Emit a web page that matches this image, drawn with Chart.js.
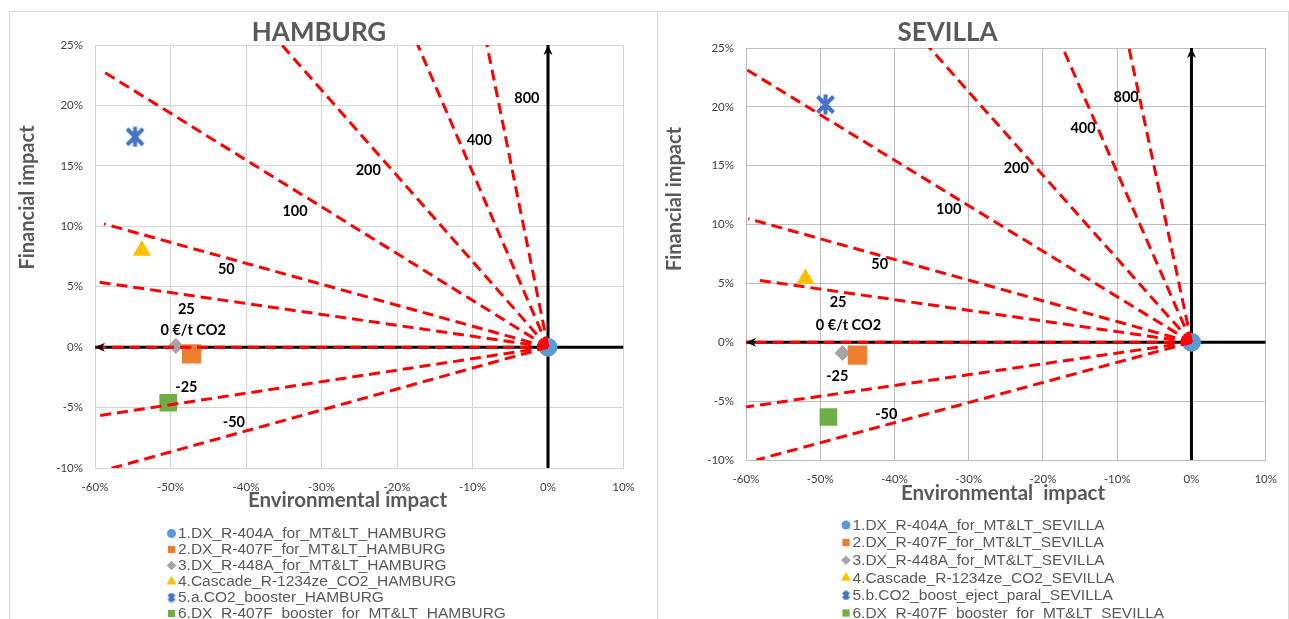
<!DOCTYPE html>
<html lang="en">
<head>
  <meta charset="UTF-8">
  <title>Hamburg / Sevilla - financial vs environmental impact</title>
  <script src="https://cdn.jsdelivr.net/npm/chart.js"></script>
  <style>
    body { margin: 0; width: 1289px; height: 619px; overflow: hidden; background: #fff; position: relative; }
    .panel { position: absolute; top: 11px; height: 660px; border: 1px solid #d9d9d9; box-sizing: border-box; }
    #panelH { left: 9px; width: 649px; }
    #panelS { left: 657px; width: 632px; }
    canvas { position: absolute; top: 0; }
    #chartH { left: 0; }
    #chartS { left: 657px; }
  </style>
</head>
<body>
  <div class="panel" id="panelH"></div>
  <div class="panel" id="panelS"></div>
  <canvas id="chartH" width="657" height="619"></canvas>
  <canvas id="chartS" width="632" height="619"></canvas>
<script>
const xRange = [-60, 10];
const yRange = [-10, 25];

const seriesH = ['1.DX_R-404A_for_MT&LT_HAMBURG', '2.DX_R-407F_for_MT&LT_HAMBURG', '3.DX_R-448A_for_MT&LT_HAMBURG',
  '4.Cascade_R-1234ze_CO2_HAMBURG', '5.a.CO2_booster_HAMBURG', '6.DX_R-407F_booster_for_MT&LT_HAMBURG'];
const envH = [0, -47.2, -49.3, -53.8, -54.7, -50.3];
const finH = [0, -0.55, 0.1, 8.0, 17.4, -4.6];

const seriesS = ['1.DX_R-404A_for_MT&LT_SEVILLA', '2.DX_R-407F_for_MT&LT_SEVILLA', '3.DX_R-448A_for_MT&LT_SEVILLA',
  '4.Cascade_R-1234ze_CO2_SEVILLA', '5.b.CO2_boost_eject_paral_SEVILLA', '6.DX_R-407F_booster_for_MT&LT_SEVILLA'];
const envS = [0, -45.0, -47.0, -52.0, -49.3, -48.9];
const finS = [0, -1.1, -0.9, 5.4, 20.2, -6.35];

// iso-cost lines (€/t CO2): they start at the origin and end at these points
const isoLabels = ['800', '400', '200', '100', '50', '25', '0 €/t CO2', '-25', '-50'];
const isoEndXH = [-9.7, -20.7, -42.3, -58.9, -58.8, -59.8, -60, -59.8, -59.4];
const isoEndYH = [30, 30, 30, 22.8, 10.2, 5.4, 0, -5.7, -10.3];
const isoEndXS = [-10.1, -20.8, -42.3, -60, -59.7, -58.6, -60, -60, -58.6];
const isoEndYS = [30, 30, 30, 23.2, 10.5, 5.3, 0, -5.5, -10.0];
// where the line labels sit
const isoTextXH = [-2.8, -9.1, -23.8, -33.5, -42.6, -47.9, -47, -47.9, -41.6];
const isoTextYH = [20.6, 17.1, 14.6, 11.2, 6.4, 3.1, 1.4, -3.3, -6.2];
const isoTextXS = [-8.8, -14.6, -23.6, -32.7, -42, -47.6, -46.2, -47.7, -41.1];
const isoTextYS = [20.8, 18.2, 14.8, 11.3, 6.6, 3.4, 1.4, -2.9, -6.1];

const markerColors = ['#5b9bd5', '#ed7d31', '#a5a5a5', '#ffc000', '#4472c4', '#70ad47'];
const markerShapes = ['circle', 'rect', 'rectRot', 'triangle', 'star', 'rect'];
const markerSizes = [9.5, 13.6, 8, 10.5, 10, 12.5];
const legendSizes = [4.5, 5.2, 4.8, 5.8, 4.5, 5.2];

function starMarker(size, lw, color) {
  const c = document.createElement('canvas');
  c.width = c.height = size;
  const g = c.getContext('2d');
  g.strokeStyle = color;
  g.lineWidth = lw;
  const m = lw / 2 + 0.5, e = size - m, h = size / 2;
  g.beginPath();
  g.moveTo(m, m); g.lineTo(e, e);
  g.moveTo(e, m); g.lineTo(m, e);
  g.moveTo(h, 0.5); g.lineTo(h, size - 0.5);
  g.stroke();
  return c;
}
const starBig = starMarker(21, 4, markerColors[4]);
const starSmall = starMarker(10, 3, markerColors[4]);

function drawMarker(ctx, shape, r, x, y) {
  ctx.beginPath();
  if (shape === 'circle') {
    ctx.arc(x, y, r, 0, Math.PI * 2);
  } else if (shape === 'rect') {
    ctx.rect(x - r * 0.7, y - r * 0.7, r * 1.4, r * 1.4);
  } else if (shape === 'rectRot') {
    ctx.moveTo(x, y - r); ctx.lineTo(x + r, y); ctx.lineTo(x, y + r); ctx.lineTo(x - r, y);
  } else if (shape === 'triangle') {
    ctx.moveTo(x, y - r); ctx.lineTo(x + r * 0.87, y + r * 0.5); ctx.lineTo(x - r * 0.87, y + r * 0.5);
  } else {
    ctx.drawImage(starSmall, x - 5, y - 5);
    return;
  }
  ctx.closePath();
  ctx.fill();
}

function arrowHead(ctx, x, y, dx, dy) {
  const L = 10, W = 4.5, N = 7, px = -dy, py = dx;
  ctx.beginPath();
  ctx.moveTo(x, y);
  ctx.lineTo(x - dx * L + px * W, y - dy * L + py * W);
  ctx.lineTo(x - dx * N, y - dy * N);
  ctx.lineTo(x - dx * L - px * W, y - dy * L - py * W);
  ctx.closePath();
  ctx.fill();
}

const decor = {
  id: 'decor',
  afterDatasetsDraw(chart, args, o) {
    const ctx = chart.ctx, xs = chart.scales.x, ys = chart.scales.y;
    ctx.save();
    ctx.fillStyle = '#000';
    arrowHead(ctx, xs.getPixelForValue(xRange[0]), ys.getPixelForValue(0), -1, 0);
    arrowHead(ctx, xs.getPixelForValue(0), ys.getPixelForValue(yRange[1]), 0, -1);

    ctx.textAlign = 'center';
    ctx.textBaseline = 'middle';
    ctx.font = 'bold 14.5px Lato';
    isoLabels.forEach((t, i) => {
      ctx.fillText(t, xs.getPixelForValue(o.textX[i]), ys.getPixelForValue(o.textY[i]));
    });

    ctx.fillStyle = '#595959';
    ctx.font = 'bold 26px Lato';
    ctx.fillText(o.title, o.titleX, o.titleY);
    ctx.font = 'bold 20.5px Lato';
    ctx.fillText(o.xTitle, o.xTitleX, o.xTitleY);
    ctx.save();
    ctx.translate(o.yTitleX, o.yTitleY);
    ctx.rotate(-Math.PI / 2);
    ctx.font = 'bold 20px Lato';
    ctx.fillText('Financial impact', 0, 0);
    ctx.restore();

    // legend
    ctx.textAlign = 'left';
    ctx.font = '15.5px "Liberation Sans"';
    o.names.forEach((name, i) => {
      const y = o.legendY + i * o.legendStep;
      ctx.fillStyle = markerColors[i];
      drawMarker(ctx, markerShapes[i], legendSizes[i], o.legendX, y);
      ctx.fillStyle = '#595959';
      ctx.fillText(name, o.legendX + 6.5, y + 0.5);
    });
    ctx.restore();
  }
};

function buildChart(id, names, env, fin, endX, endY, opts) {
  const markers = names.map((n, i) => ({
    label: n,
    data: [{ x: env[i], y: fin[i] }],
    pointStyle: markerShapes[i] === 'star' ? starBig : markerShapes[i],
    pointRadius: markerSizes[i],
    backgroundColor: markerColors[i],
    borderColor: markerColors[i],
    borderWidth: 0,
    order: 3
  }));
  const axes = [
    { data: [{ x: xRange[1], y: 0 }, { x: xRange[0], y: 0 }] },
    { data: [{ x: 0, y: yRange[0] }, { x: 0, y: yRange[1] }] }
  ].map(a => Object.assign(a, { showLine: true, borderColor: '#000', borderWidth: 3, pointRadius: 0, order: 4 }));
  const iso = isoLabels.map((t, i) => ({
    label: t,
    data: [{ x: 0, y: 0 }, { x: endX[i], y: endY[i] }],
    showLine: true,
    borderColor: '#ff0000',
    borderWidth: 3,
    borderDash: [11, 6],
    pointRadius: 0,
    order: 1
  }));

  const tickFont = { family: 'Lato', size: 11.5 };
  return new Chart(document.getElementById(id), {
    type: 'scatter',
    data: { datasets: markers.concat(axes, iso) },
    options: {
      responsive: false,
      animation: false,
      events: [],
      layout: { padding: opts.padding },
      scales: {
        x: {
          type: 'linear', min: xRange[0], max: xRange[1],
          ticks: { stepSize: 10, callback: v => v + '%', color: '#404040', font: tickFont, padding: 12 },
          grid: { color: opts.gridColor, drawTicks: false },
          border: { color: opts.gridColor },
          afterFit: s => { s.height = 30; }
        },
        y: {
          type: 'linear', min: yRange[0], max: yRange[1],
          ticks: { stepSize: 5, callback: v => v + '%', color: '#404040', font: tickFont, padding: 12 },
          grid: { color: opts.gridColor, drawTicks: false },
          border: { color: opts.gridColor },
          afterFit: s => { s.width = opts.yWidth; }
        }
      },
      plugins: {
        legend: { display: false },
        tooltip: { enabled: false },
        decor: Object.assign({ names }, opts.decor)
      }
    },
    plugins: [decor]
  });
}

buildChart('chartH', seriesH, envH, finH, isoEndXH, isoEndYH, {
  padding: { left: 0, top: 45, right: 33.5, bottom: 121 },
  yWidth: 95,
  gridColor: '#d4d4d4',
  decor: {
    textX: isoTextXH, textY: isoTextYH,
    title: 'HAMBURG', titleX: 319, titleY: 33,
    xTitle: 'Environmental impact', xTitleX: 347.5, xTitleY: 500,
    yTitleX: 28, yTitleY: 197.5,
    legendX: 171.5, legendY: 533.5, legendStep: 16
  }
});

buildChart('chartS', seriesS, envS, finS, isoEndXS, isoEndYS, {
  padding: { left: 0, top: 48, right: 22, bottom: 129 },
  yWidth: 89,
  gridColor: '#bdbdbd',
  decor: {
    textX: isoTextXS, textY: isoTextYS,
    title: 'SEVILLA', titleX: 290.5, titleY: 33,
    xTitle: 'Environmental  impact', xTitleX: 346, xTitleY: 493,
    yTitleX: 18, yTitleY: 199,
    legendX: 189, legendY: 525, legendStep: 17.6
  }
});
</script>
</body>
</html>
